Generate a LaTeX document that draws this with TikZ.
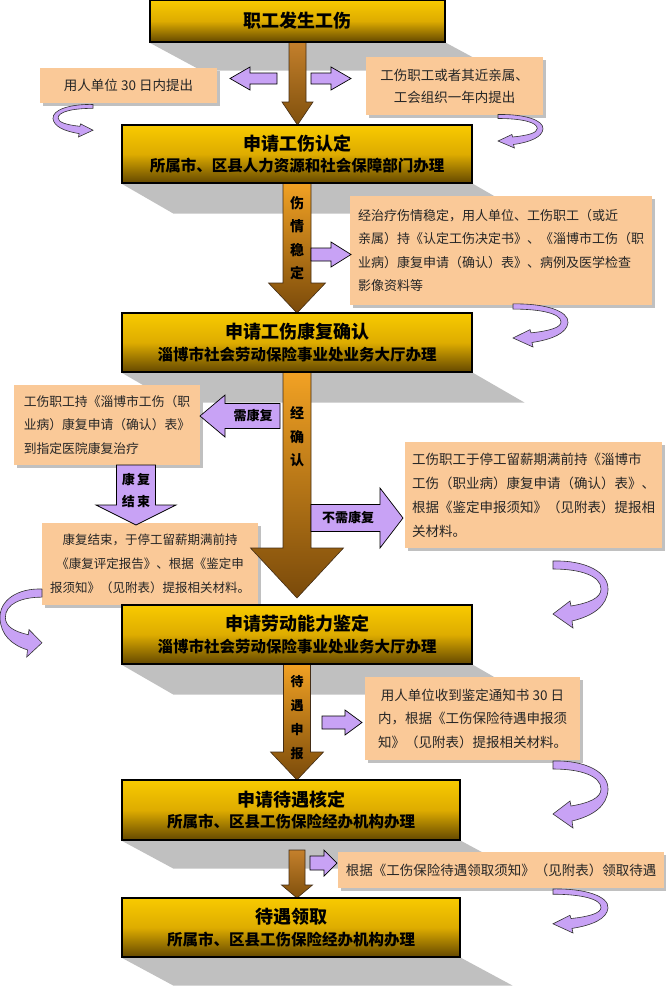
\documentclass[tikz,border=0pt]{standalone}
\usepackage{fontspec}
\setmainfont{Noto Sans CJK SC}
\usetikzlibrary{shadows,calc}
\pgfdeclarelayer{bg}
\pgfsetlayers{bg,main}
\definecolor{peach}{RGB}{250,201,152}
\definecolor{lav}{RGB}{200,162,245}
\definecolor{sgray}{RGB}{192,192,192}
\definecolor{gtop}{RGB}{248,202,0}
\definecolor{gmid}{RGB}{222,172,0}
\definecolor{gbot}{RGB}{100,72,0}
\definecolor{atop}{RGB}{242,162,36}
\definecolor{abot}{RGB}{122,74,10}
\definecolor{btop}{RGB}{196,128,44}
\definecolor{bbot}{RGB}{128,80,12}
\tikzset{
  mainbox/.style={draw=black, line width=1.2pt, top color=gtop, bottom color=gbot, middle color=gmid, align=center, inner sep=0pt, font=\bfseries, text=black},
  note/.style={fill=peach, drop shadow={shadow xshift=3pt, shadow yshift=-3pt, fill=sgray, opacity=1}, inner sep=0pt, text=black!85},
  brarrow/.style={top color=atop, bottom color=abot, draw=brown!35!black, line width=0.6pt},
  purparrow/.style={fill=lav, draw=black, line width=0.7pt},
  curv/.style={fill=lav, draw=black!80, line width=0.6pt},
  vlabel/.style={inner sep=0pt, align=center, text=black},
}
% down block arrow: xc, ytop, yhead, ytip, shaft half, head half
\newcommand\BArrowDown[7][]{%
  \path[brarrow,#1] ({#2-#6},#3) -- ({#2+#6},#3) -- ({#2+#6},#4) -- ({#2+#7},#4) -- (#2,#5) -- ({#2-#7},#4) -- ({#2-#6},#4) -- cycle;}
% horizontal purple arrows: tail x, tip x, yc, shaft half, head half, head base x
\newcommand\PArrowH[6]{%
  \path[purparrow] (#1,{#3-#4}) -- (#6,{#3-#4}) -- (#6,{#3-#5}) -- (#2,#3) -- (#6,{#3+#5}) -- (#6,{#3+#4}) -- (#1,{#3+#4}) -- cycle;}
% down purple arrow: xc, ytop, ytip, shaft half, head half, head base y
\newcommand\PArrowD[6]{%
  \path[purparrow] ({#1-#4},#2) -- ({#1+#4},#2) -- ({#1+#4},#6) -- ({#1+#5},#6) -- (#1,#3) -- ({#1-#5},#6) -- ({#1-#4},#6) -- cycle;}
% curved arrows: x, y (top-left), w, h
\newcommand\CurvShape{\path[curv] (0,3) .. controls (32,2) and (56,14) .. (55,32) .. controls (54,48) and (40,58) .. (19,63) -- (20,70) -- (0,56) -- (17,43) -- (18,48) .. controls (36,45) and (48,40) .. (48,31) .. controls (48,18) and (28,11) .. (0,11) -- cycle;}
\newcommand\CurvR[4]{\begin{scope}[shift={(#1,#2)}, xscale=#3/55, yscale=#4/70]\CurvShape\end{scope}}
\newcommand\CurvL[4]{\begin{scope}[shift={({#1+#3},#2)}, xscale=-#3/55, yscale=#4/70]\CurvShape\end{scope}}
\newcommand\hd{\fontsize{18}{21}\selectfont}
\newcommand\sd{\fontsize{15.5}{21}\selectfont}

\begin{document}
\begin{tikzpicture}[x=1pt, y=-1pt]
\useasboundingbox (0,0) rectangle (666,988);

% ---------- peach notes ----------
\node[note, minimum width=177pt, minimum height=35pt, font=\fontsize{13.5}{22}\selectfont] (n1) at (128.5,85.5)
  {用人单位 30 日内提出};
\node[note, minimum width=177pt, minimum height=58pt, align=center, font=\fontsize{13.5}{22}\selectfont] (n2) at (454.5,86)
  {工伤职工或者其近亲属、\\工会组织一年内提出};
\node[note, minimum width=302pt, minimum height=109pt, align=left, font=\fontsize{13}{23.5}\selectfont] (n3) at (501,250.5)
  {经治疗伤情稳定，用人单位、工伤职工（或近\\亲属）持《认定工伤决定书》、《淄博市工伤（职\\业病）康复申请（确认）表》、病例及医学检查\\影像资料等};
\node[note, minimum width=186pt, minimum height=80pt, align=left, font=\fontsize{12.8}{23.5}\selectfont] (n4) at (107,425)
  {工伤职工持《淄博市工伤（职\\业病）康复申请（确认）表》\\到指定医院康复治疗};
\node[note, minimum width=216pt, minimum height=82pt, align=center, font=\fontsize{12.5}{24}\selectfont] (n5) at (150,564)
  {康复结束，于停工留薪期满前持\\《康复评定报告》、根据《鉴定申\\报须知》（见附表）提报相关材料。};
\node[note, minimum width=257pt, minimum height=106pt, align=left, font=\fontsize{13.5}{24}\selectfont] (n6) at (533.5,495)
  {工伤职工于停工留薪期满前持《淄博市\\工伤（职业病）康复申请（确认）表》、\\根据《鉴定申报须知》（见附表）提报相\\关材料。};
\node[note, minimum width=215pt, minimum height=83pt, align=center, font=\fontsize{13.5}{23.5}\selectfont] (n7) at (472.5,718.5)
  {用人单位收到鉴定通知书 30 日\\内，根据《工伤保险待遇申报须\\知》（见附表）提报相关材料。};
\node[note, minimum width=326pt, minimum height=36pt, font=\fontsize{13.5}{20}\selectfont] (n8) at (501,870)
  {根据《工伤保险待遇领取须知》（见附表）领取待遇};

% ---------- main brown arrows ----------
\BArrowDown[top color=btop, bottom color=bbot]{297.5}{41}{102}{125}{8.5}{15.5}
\BArrowDown{297}{182}{283}{313}{14}{28.5}
\BArrowDown{297}{371}{548}{598}{14}{46.5}
\BArrowDown{297}{663}{752}{780}{13.5}{26.5}
\BArrowDown[top color=btop, bottom color=bbot]{297}{850}{885}{898}{8}{15.5}

% ---------- main boxes ----------
\node[mainbox, minimum width=295pt, minimum height=42pt] (b1) at (297.5,21)
  {\hd 职工发生工伤};
\node[mainbox, minimum width=350pt, minimum height=58pt] (b2) at (297,154)
  {\hd 申请工伤认定\\[5pt]\sd 所属市、区县人力资源和社会保障部门办理};
\node[mainbox, minimum width=350pt, minimum height=59pt] (b3) at (297,342.5)
  {\hd 申请工伤康复确认\\[5pt]\sd 淄博市社会劳动保险事业处业务大厅办理};
\node[mainbox, minimum width=350pt, minimum height=59pt] (b4) at (297,634.5)
  {\hd 申请劳动能力鉴定\\[5pt]\sd 淄博市社会劳动保险事业处业务大厅办理};
\node[mainbox, minimum width=338pt, minimum height=60pt] (b5) at (291,810)
  {\hd 申请待遇核定\\[5pt]\sd 所属市、区县工伤保险经办机构办理};
\node[mainbox, minimum width=338pt, minimum height=59pt] (b6) at (291,927.5)
  {\hd 待遇领取\\[5pt]\sd 所属市、区县工伤保险经办机构办理};

% ---------- box shadows ----------
\begin{pgfonlayer}{bg}
  \foreach \b/\dy in {b1/28,b2/30,b3/30,b4/30,b5/28,b6/28}{
    \fill[sgray] (\b.south west) -- ++(52,\dy) -- ($(\b.south east)+(52,\dy)$) -- (\b.south east) -- cycle;
  }
\end{pgfonlayer}

% ---------- arrow labels ----------
\node[vlabel, font=\fontsize{14}{23.5}\selectfont\bfseries] (l1) at (297,238) {伤\\情\\稳\\定};
\node[vlabel, font=\fontsize{14}{23.5}\selectfont\bfseries] (l2) at (297,437) {经\\确\\认};
\node[vlabel, font=\fontsize{13}{24}\selectfont\bfseries] (l3) at (297,718) {待\\遇\\申\\报};

% ---------- purple arrows ----------
\PArrowH{277}{230}{78.5}{5.5}{11.5}{250}
\PArrowH{311}{351}{78.5}{5.5}{11.5}{331}
\PArrowH{311}{351}{254.5}{6.5}{12.5}{331}
\PArrowH{280}{200}{416}{12.5}{21}{225}
\PArrowH{311}{403}{518}{13.5}{30}{380}
\PArrowH{322}{362}{722.5}{6.5}{12.5}{345}
\PArrowH{310}{337}{863}{7}{13}{324}
\PArrowD{136}{465}{525}{19.5}{40}{505}
\node[vlabel, font=\fontsize{13}{15}\selectfont\bfseries] (l4) at (253,416) {需康复};
\node[vlabel, font=\fontsize{13}{15}\selectfont\bfseries] (l5) at (348,518) {不需康复};
\node[vlabel, font=\fontsize{13}{22}\selectfont\bfseries] (l6) at (136,490) {康\,复\\结\,束};

% ---------- curved arrows ----------
\CurvL{53}{103}{40}{34}
\CurvR{498}{113}{45}{35}
\CurvR{513}{302}{55}{45}
\CurvL{0}{586}{42}{71}
\CurvR{553}{558}{55}{70}
\CurvR{553}{758}{55}{70}
\CurvR{553}{887}{55}{46}
\end{tikzpicture}
\end{document}
